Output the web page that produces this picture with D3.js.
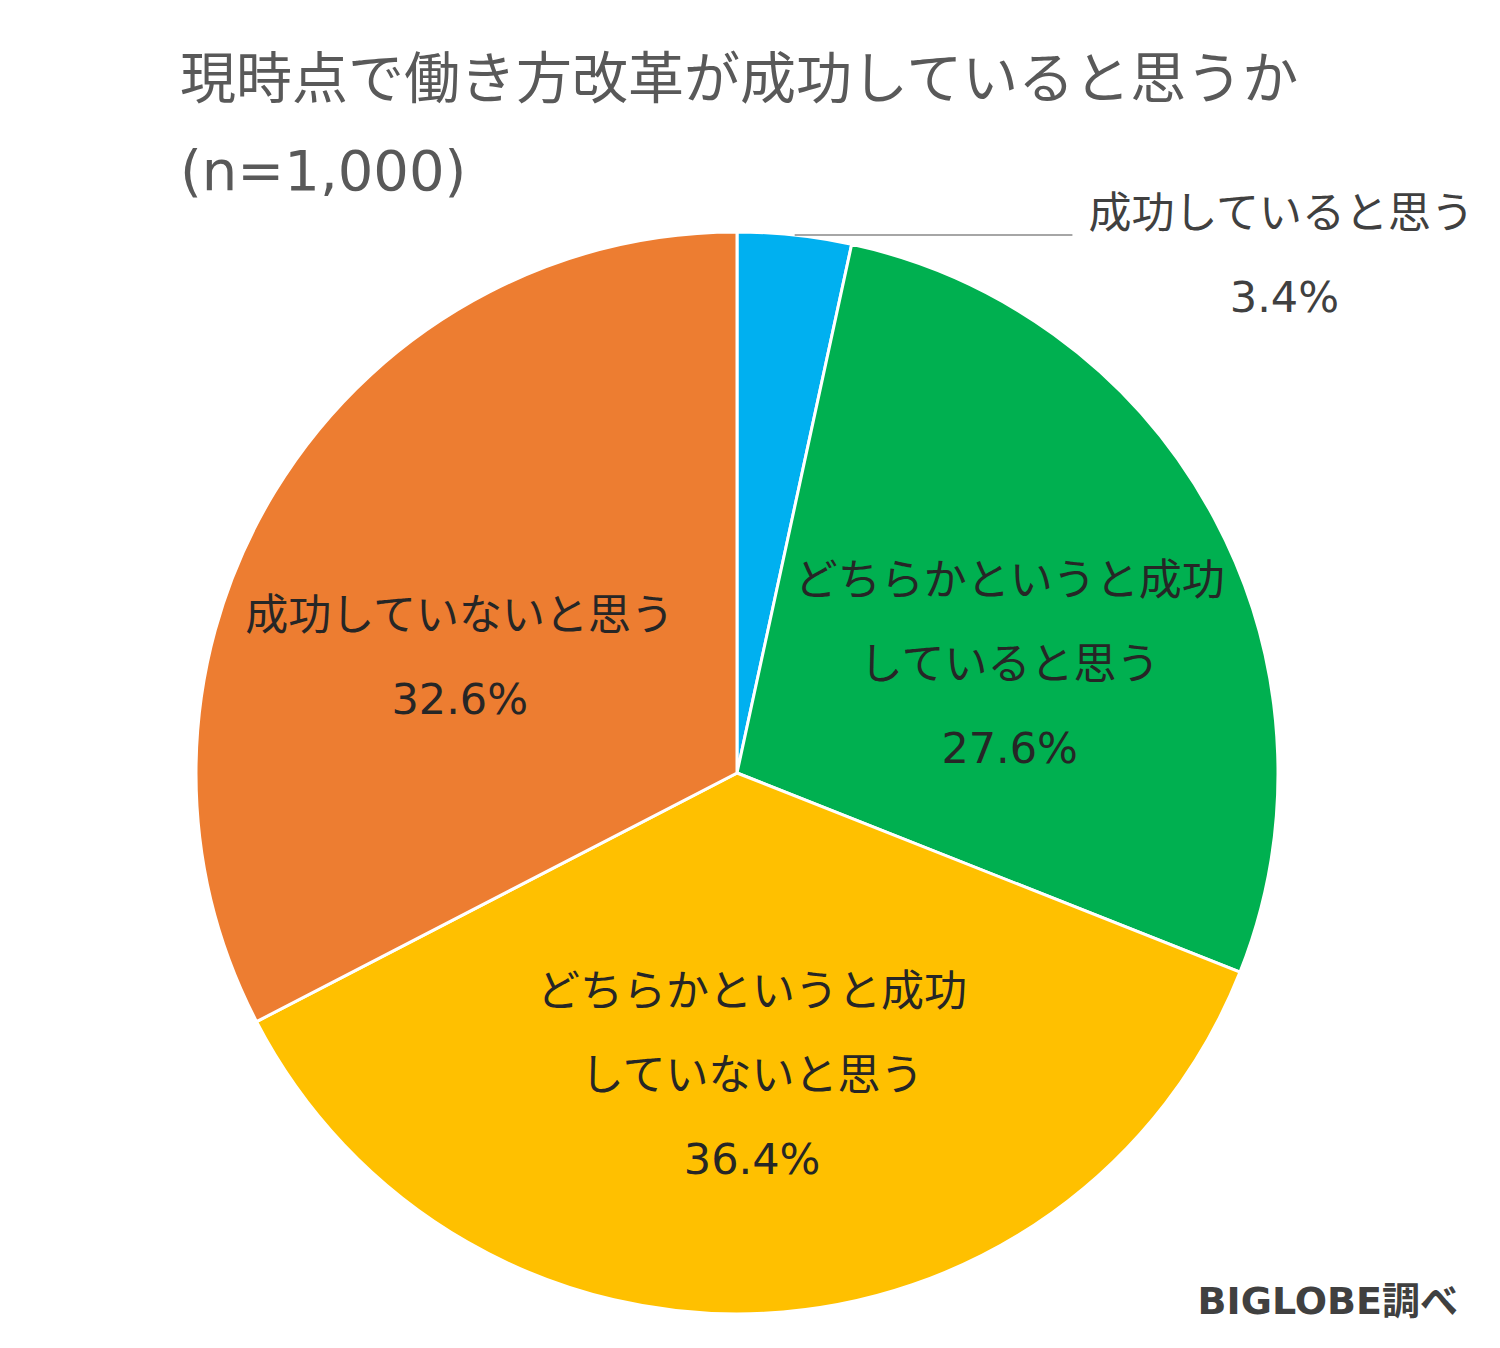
<!DOCTYPE html>
<html lang="ja">
<head>
    <meta charset="UTF-8">
    <title>現時点で働き方改革が成功していると思うか</title>
    <script src="https://d3js.org/d3.v7.min.js"></script>
    <style>
        body { margin: 0; background: #fff; }
        svg text { font-family: "DejaVu Sans", "Noto Sans CJK JP", sans-serif; }
        .title { fill: #595959; font-size: 56px; }
        .label { fill: #262626; font-size: 43px; text-anchor: middle; }
        .outer-label { fill: #404040; font-size: 43px; }
        .source { fill: #404040; font-size: 38px; font-weight: bold; text-anchor: end; }
        .slice { stroke: #fff; stroke-width: 3px; }
        .leader { stroke: #a6a6a6; stroke-width: 2px; fill: none; }
    </style>
</head>
<body>
    <svg id="chart" width="1500" height="1348"></svg>

    <script>
        // data
        const titleLines = ["現時点で働き方改革が成功していると思うか", "(n=1,000)"];
        const categories = [
            ["成功していると思う"],
            ["どちらかというと成功", "していると思う"],
            ["どちらかというと成功", "していないと思う"],
            ["成功していないと思う"]
        ];
        const values = [3.4, 27.6, 36.4, 32.6];
        const colors = ["#00b0f0", "#00b050", "#ffc000", "#ed7d31"];
        const sourceText = "BIGLOBE調べ";

        // layout
        const CX = 737, CY = 773, R = 541;
        const LABEL_R = 300;
        const LINE_H = 84;
        // small nudges so labels sit where the original placed them
        const labelNudge = [[0, 0], [8, 32], [0, 2], [-21, 40]];

        const svg = d3.select("#chart");

        svg.selectAll(".title")
            .data(titleLines)
            .join("text")
            .attr("class", "title")
            .attr("x", 180)
            .attr("y", (d, i) => 98 + i * 92)
            .text(d => d);

        const pie = d3.pie().sort(null).value(d => d);
        const arcs = pie(values);
        const arc = d3.arc().innerRadius(0).outerRadius(R);
        const labelArc = d3.arc().innerRadius(LABEL_R).outerRadius(LABEL_R);
        const edgeArc = d3.arc().innerRadius(R).outerRadius(R);

        const g = svg.append("g").attr("transform", `translate(${CX},${CY})`);

        g.selectAll(".slice")
            .data(arcs)
            .join("path")
            .attr("class", "slice")
            .attr("fill", (d, i) => colors[i])
            .attr("d", arc);

        // inside labels (all but the small first slice)
        arcs.forEach((d, i) => {
            if (i === 0) return;
            const [x, y] = labelArc.centroid(d);
            const lines = categories[i].concat([d3.format(".1f")(values[i]) + "%"]);
            const top = y + labelNudge[i][1] - (lines.length - 1) * LINE_H / 2;
            g.append("g")
                .selectAll("text")
                .data(lines)
                .join("text")
                .attr("class", "label")
                .attr("x", x + labelNudge[i][0])
                .attr("y", (t, k) => top + k * LINE_H)
                .attr("dy", "0.35em")
                .text(t => t);
        });

        // outside label for the small slice, with leader line
        const [ex, ey] = edgeArc.centroid(arcs[0]);
        const lineEnd = R * 0.62;
        g.append("line")
            .attr("class", "leader")
            .attr("x1", ex).attr("y1", ey)
            .attr("x2", lineEnd).attr("y2", ey);

        const outerText = g.append("g").attr("class", "outer-label");
        outerText.append("text")
            .attr("x", lineEnd + 16)
            .attr("y", ey - 22)
            .attr("dy", "0.35em")
            .text(categories[0][0]);
        outerText.append("text")
            .attr("x", lineEnd + 16 + 196)
            .attr("y", ey - 22 + LINE_H)
            .attr("dy", "0.35em")
            .attr("text-anchor", "middle")
            .text(d3.format(".1f")(values[0]) + "%");

        svg.append("text")
            .attr("class", "source")
            .attr("x", 1458)
            .attr("y", 1314)
            .text(sourceText);
    </script>
</body>
</html>
